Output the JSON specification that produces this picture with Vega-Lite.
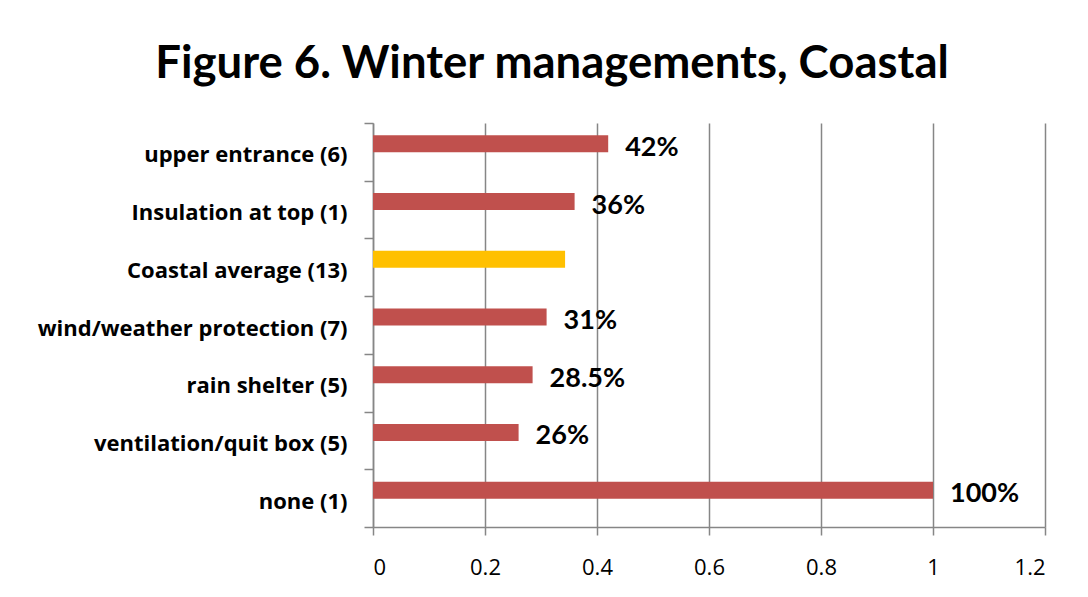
{
  "$schema": "https://vega.github.io/schema/vega-lite/v6.json",
  "width": 672,
  "height": 404,
  "autosize": {"type": "none"},
  "padding": {"left": 373, "top": 123, "right": 43, "bottom": 70},
  "background": "white",
  "title": {
    "text": "Figure 6. Winter managements, Coastal",
    "font": "Lato",
    "fontSize": 45.5,
    "fontWeight": "bold",
    "color": "black",
    "anchor": "middle",
    "dx": -157,
    "offset": 25
  },
  "config": {
    "view": {"stroke": null},
    "axis": {"labelFont": "Open Sans", "labelColor": "black", "domainColor": "#868686", "tickColor": "#868686", "gridColor": "#868686", "domainWidth": 1.5, "tickWidth": 1.5, "gridWidth": 1.5}
  },
  "data": {
    "values": [
      {"category": "upper entrance (6)", "value": 0.42, "label": "42%", "type": "item"},
      {"category": "Insulation at top (1)", "value": 0.36, "label": "36%", "type": "item"},
      {"category": "Coastal average (13)", "value": 0.343, "label": "", "type": "average"},
      {"category": "wind/weather protection (7)", "value": 0.31, "label": "31%", "type": "item"},
      {"category": "rain shelter (5)", "value": 0.285, "label": "28.5%", "type": "item"},
      {"category": "ventilation/quit box (5)", "value": 0.26, "label": "26%", "type": "item"},
      {"category": "none (1)", "value": 1.0, "label": "100%", "type": "item"}
    ]
  },
  "encoding": {
    "y": {
      "field": "category",
      "type": "nominal",
      "sort": null,
      "scale": {"paddingInner": 0, "paddingOuter": 0},
      "axis": {
        "title": null,
        "labelFontSize": 22,
        "labelFontWeight": "bold",
        "labelLimit": 0,
        "labelOffset": 3,
        "tickBand": "extent",
        "tickSize": 9,
        "labelPadding": 17,
        "grid": false
      }
    },
    "x": {
      "field": "value",
      "type": "quantitative",
      "scale": {"domain": [0, 1.2], "nice": false},
      "axis": {
        "title": null,
        "values": [0, 0.2, 0.4, 0.6, 0.8, 1.0, 1.2],
        "format": ".1~f",
        "labelFontSize": 22,
        "labelPadding": 22,
        "tickSize": 8,
        "grid": true
      }
    }
  },
  "layer": [
    {
      "mark": {"type": "bar", "size": 17, "yOffset": -8},
      "encoding": {
        "color": {
          "field": "type",
          "type": "nominal",
          "scale": {"domain": ["item", "average"], "range": ["#C0504D", "#FFC000"]},
          "legend": null
        }
      }
    },
    {
      "mark": {"type": "text", "align": "left", "baseline": "middle", "dx": 17, "yOffset": -4, "font": "Lato", "fontSize": 27, "fontWeight": "bold", "color": "black"},
      "encoding": {"text": {"field": "label", "type": "nominal"}}
    }
  ]
}
